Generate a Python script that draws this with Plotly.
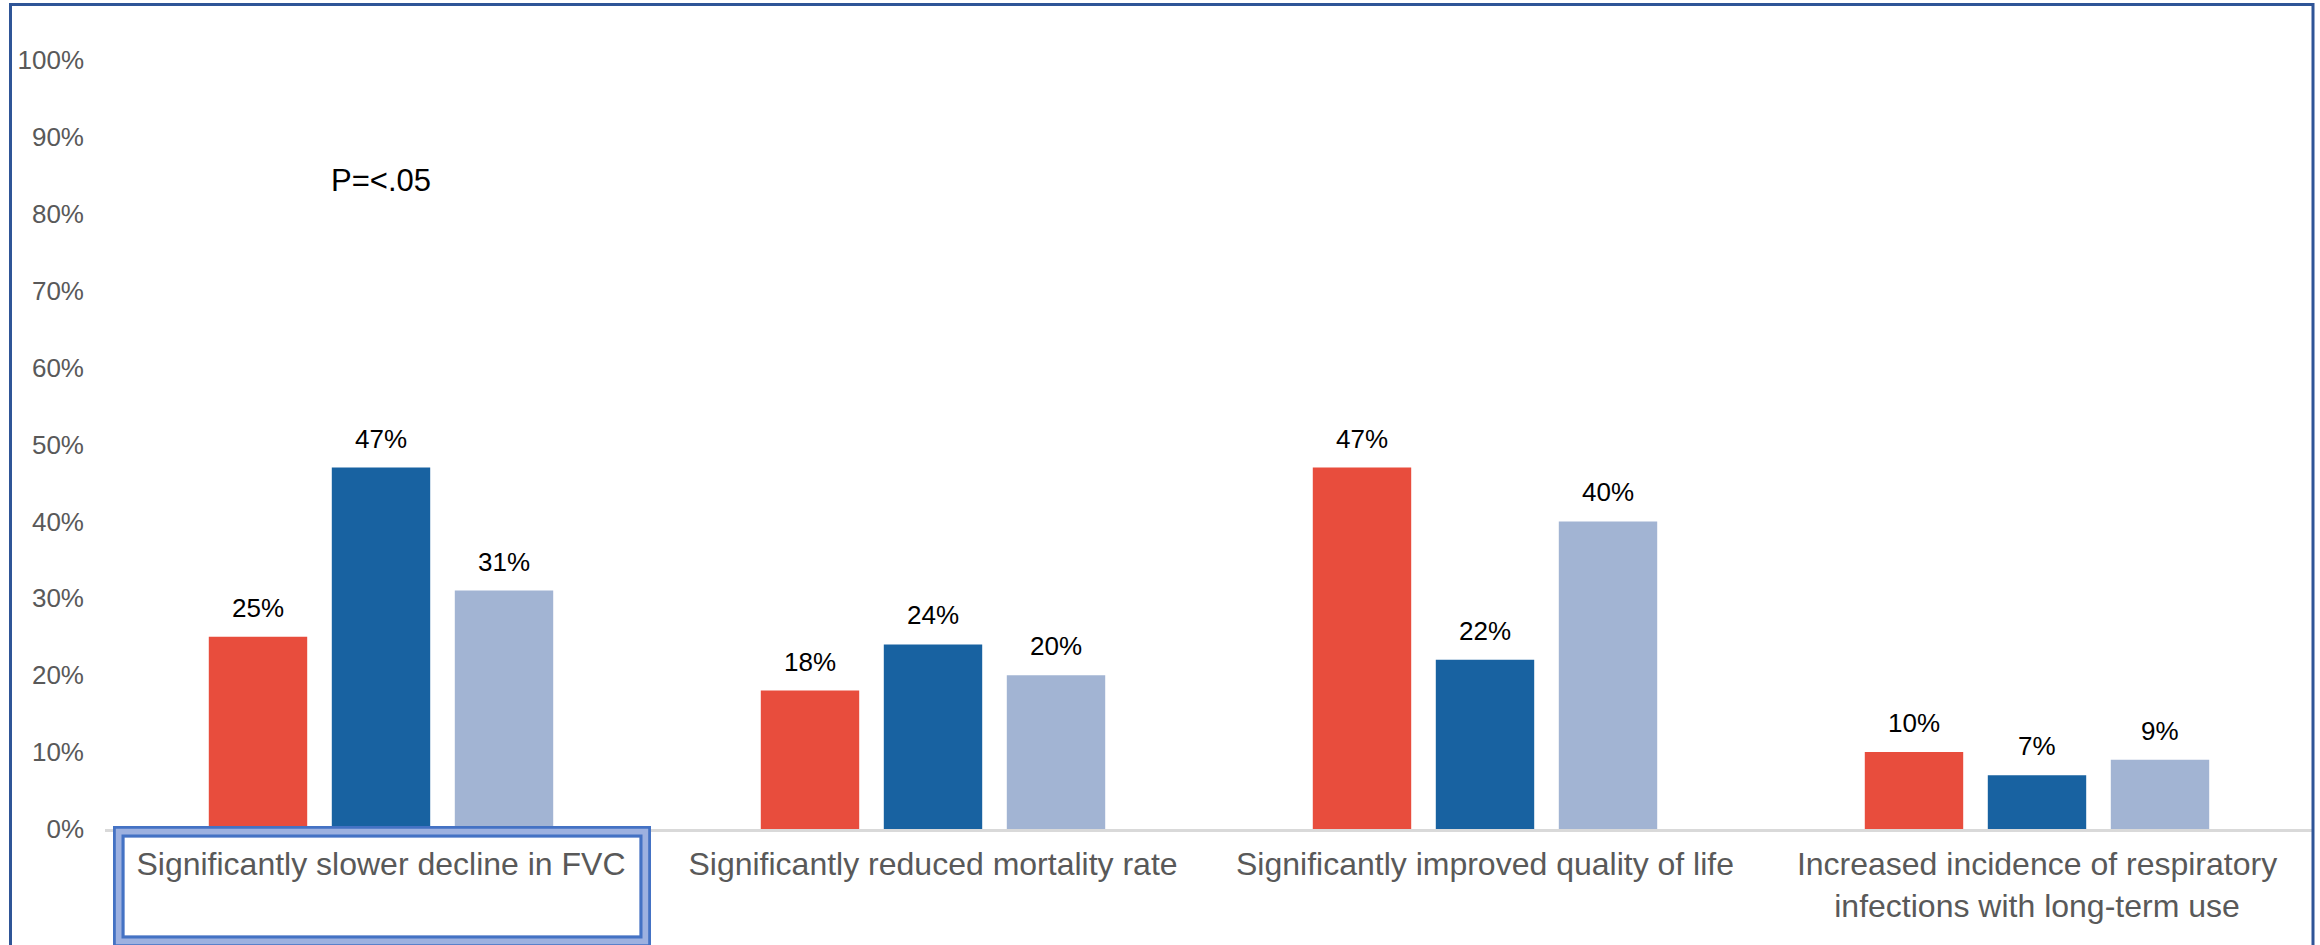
import plotly.graph_objects as go

# ---- data -------------------------------------------------------------
categories = [
    "Significantly slower decline in FVC",
    "Significantly reduced mortality rate",
    "Significantly improved quality of life",
    "Increased incidence of respiratory<br>infections with long-term use",
]
series_names = ["Series 1", "Series 2", "Series 3"]
series_1 = [0.25, 0.18, 0.47, 0.10]
series_2 = [0.47, 0.24, 0.22, 0.07]
series_3 = [0.31, 0.20, 0.40, 0.09]
y_tick_values = [0.0, 0.1, 0.2, 0.3, 0.4, 0.5, 0.6, 0.7, 0.8, 0.9, 1.0]
note_text = "P=<.05"

# ---- styling ------------------------------------------------------------
colors = ["#E84D3D", "#1862A1", "#A2B4D3"]
FONT = "Arial, Liberation Sans, sans-serif"
W, H = 2320, 945
M_L, M_R, M_T, M_B = 105, 7, 60, 116
PLOT_W = W - M_L - M_R
PLOT_H = H - M_T - M_B
BARGAP = 0.3315
BARGROUPGAP = 0.2


def px_x(px):
    """Convert a page x pixel to paper units."""
    return (px - M_L) / PLOT_W


def px_y(py):
    """Convert a page y pixel to paper units."""
    return (H - M_B - py) / PLOT_H


fig = go.Figure()
all_series = [series_1, series_2, series_3]
for name, vals, col in zip(series_names, all_series, colors):
    fig.add_trace(go.Bar(
        x=categories, y=vals, name=name,
        marker=dict(color=col, line=dict(width=0)),
        showlegend=False,
    ))

# value labels above each bar
slot = PLOT_W / len(categories) * (1 - BARGAP) / len(all_series)
annotations = []
for i, vals in enumerate(all_series):
    offset = (i - (len(all_series) - 1) / 2) * slot
    for cat, v in zip(categories, vals):
        annotations.append(dict(
            x=cat, y=v, xref="x", yref="y",
            text=f"{v:.0%}", showarrow=False,
            xanchor="center", yanchor="bottom",
            xshift=offset, yshift=12,
            font=dict(family=FONT, size=26, color="#000000"),
        ))

annotations.append(dict(
    x=categories[0], y=0.843, xref="x", yref="y",
    text=note_text, showarrow=False,
    xanchor="center", yanchor="middle",
    font=dict(family=FONT, size=31, color="#000000"),
))

shapes = []
# outer frame
shapes.append(dict(
    type="rect", xref="paper", yref="paper",
    x0=px_x(10.5), x1=px_x(2313), y0=px_y(980), y1=px_y(4.5),
    line=dict(color="#2F5597", width=3), fillcolor="rgba(0,0,0,0)",
    layer="above",
))
# highlight box around the first category label (double outline)
bx0, bx1, by0, by1 = 113, 651, 826, 947
shapes.append(dict(
    type="rect", xref="paper", yref="paper",
    x0=px_x(bx0 + 5.75), x1=px_x(bx1 - 5.75),
    y0=px_y(by1 - 5.75), y1=px_y(by0 + 5.75),
    line=dict(color="#9DB1E0", width=11.5), fillcolor="rgba(0,0,0,0)",
    layer="above",
))
for inset, w in [(1.4, 2.8), (10.0, 3.0)]:
    shapes.append(dict(
        type="rect", xref="paper", yref="paper",
        x0=px_x(bx0 + inset), x1=px_x(bx1 - inset),
        y0=px_y(by1 - inset), y1=px_y(by0 + inset),
        line=dict(color="#4472C4", width=w), fillcolor="rgba(0,0,0,0)",
        layer="above",
    ))

fig.update_layout(
    width=W, height=H,
    margin=dict(l=M_L, r=M_R, t=M_T, b=M_B, pad=0),
    paper_bgcolor="white", plot_bgcolor="white",
    barmode="group", bargap=BARGAP, bargroupgap=BARGROUPGAP,
    annotations=annotations, shapes=shapes,
    font=dict(family=FONT),
)
fig.update_xaxes(
    showgrid=False, zeroline=False, ticks="",
    showline=True, linecolor="#D9D9D9", linewidth=2.5,
    tickfont=dict(family=FONT, size=32, color="#595959"),
    tickangle=0, automargin=False, ticklabelstandoff=5,
)
fig.update_yaxes(
    range=[0, 1], showgrid=False, zeroline=False, ticks="",
    showline=False, tickvals=y_tick_values, tickformat=".0%",
    tickfont=dict(family=FONT, size=26, color="#595959"),
    ticklabelstandoff=20, automargin=False,
)

fig.write_html("out.html")
